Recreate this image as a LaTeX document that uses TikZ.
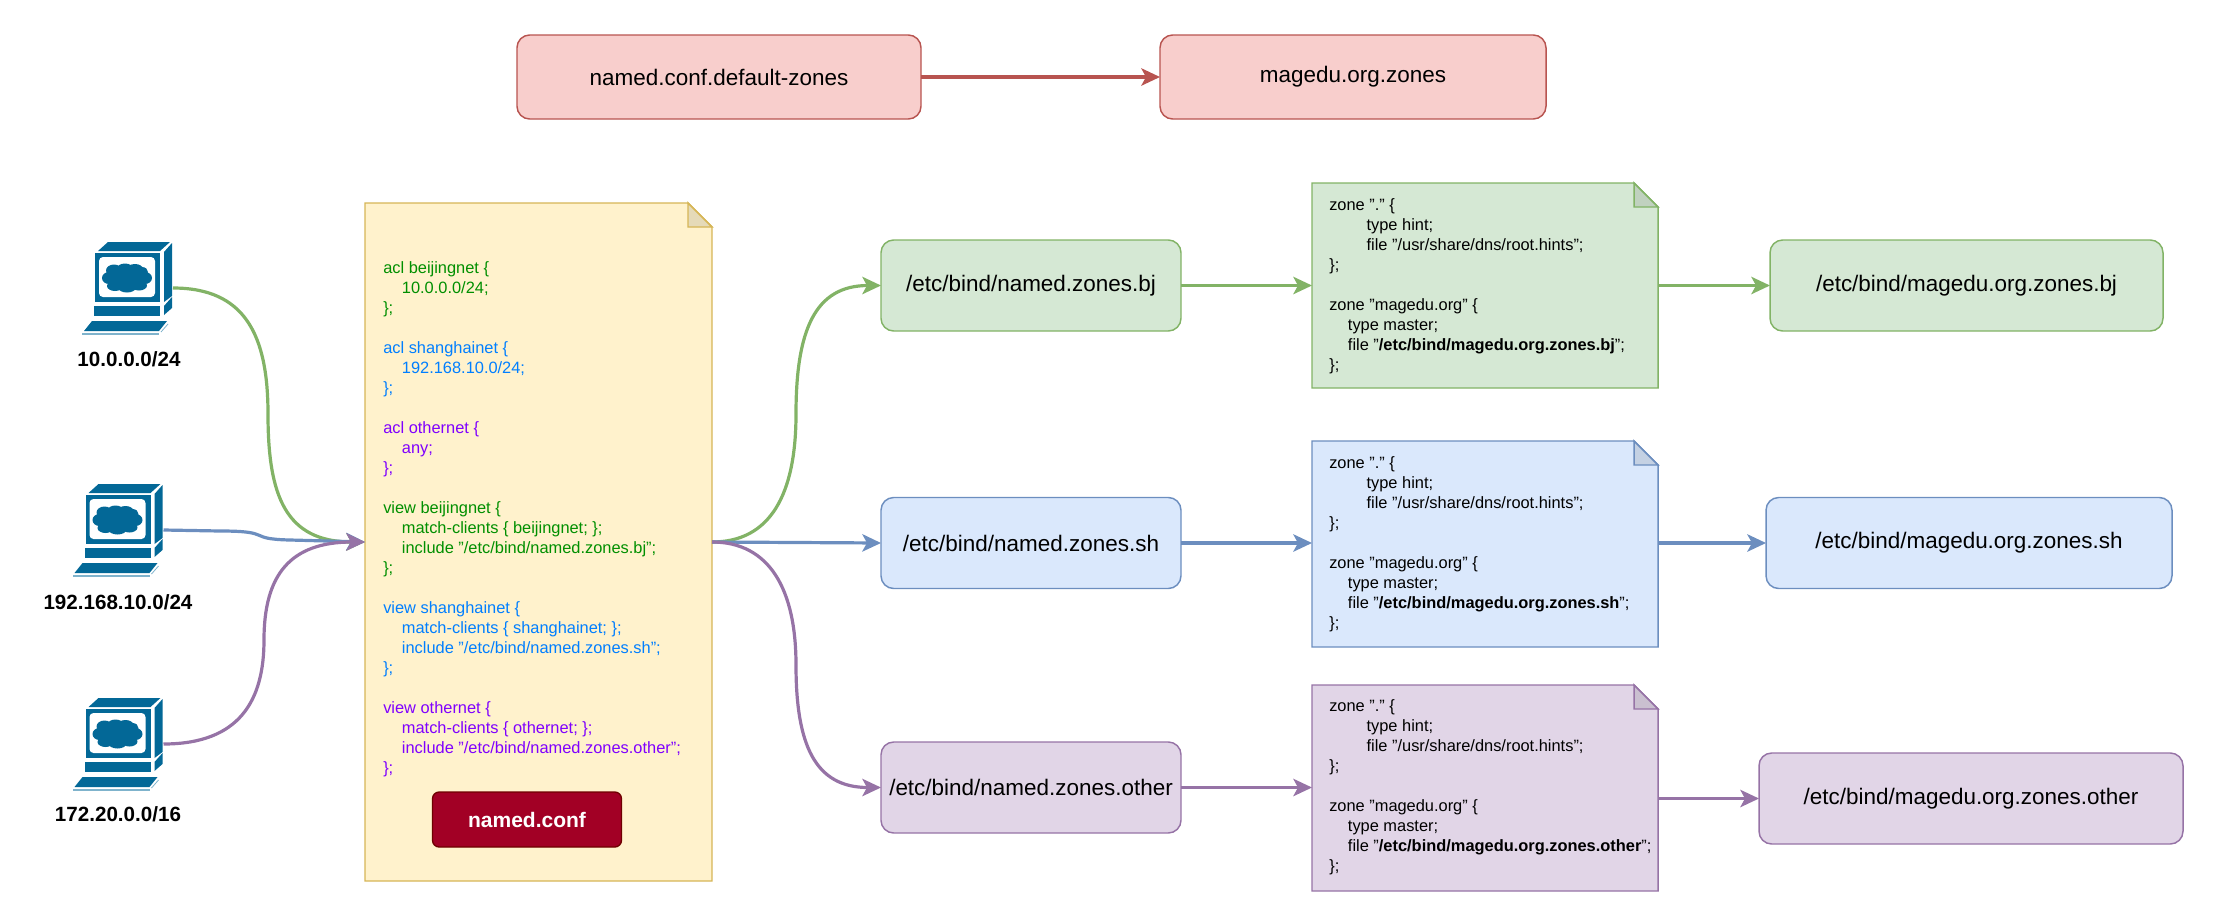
\documentclass[tikz,border=0pt]{standalone}
\usepackage{fontspec}
\setmainfont{Liberation Sans}
\usetikzlibrary{arrows.meta}
\definecolor{gl}{HTML}{82B366}\definecolor{gf}{HTML}{D5E8D4}
\definecolor{bl}{HTML}{6C8EBF}\definecolor{bf}{HTML}{DAE8FC}
\definecolor{pl}{HTML}{9673A6}\definecolor{pf}{HTML}{E1D5E7}
\definecolor{rl}{HTML}{B85450}\definecolor{rf}{HTML}{F8CECC}
\definecolor{yl}{HTML}{D6B656}\definecolor{yf}{HTML}{FFF2CC}
\definecolor{tg}{HTML}{008F00}\definecolor{tb}{HTML}{007FFF}\definecolor{tp}{HTML}{7F00FF}
\definecolor{pcc}{HTML}{036897}\definecolor{pcl}{HTML}{7FB3CC}
\definecolor{btn}{HTML}{A20025}\definecolor{btl}{HTML}{6F0000}
\newcommand{\ia}{\hspace*{14pt}}
\newcommand{\ib}{\hspace*{28pt}}
\newcommand{\tG}[1]{\textcolor{tg}{#1}}
\newcommand{\tB}[1]{\textcolor{tb}{#1}}
\newcommand{\tP}[1]{\textcolor{tp}{#1}}
\newcommand{\docframe}[3]{%
  \path[fill=#2,draw=#3,line width=1.1pt] (#1.north west) -- ([xshift=-18pt]#1.north east) -- ([yshift=-18pt]#1.north east) -- (#1.south east) -- (#1.south west) -- cycle;
  \path[fill=#2!90!black,draw=#3,line width=1.1pt] ([xshift=-18pt]#1.north east) -- ([yshift=-18pt]#1.north east) -- ([xshift=-18pt,yshift=-18pt]#1.north east) -- cycle;}
\newcommand{\zonetext}[1]{zone "." \{\\\ib type hint;\\\ib file "/usr/share/dns/root.hints";\\\};\\[15pt]zone "magedu.org" \{\\\ia type master;\\\ia file "\textbf{/etc/bind/magedu.org.zones.#1}";\\\};}
\tikzset{
  sz/.style 2 args={minimum width=#1*0.75pt,minimum height=#2*0.75pt},
  rbox/.style={draw,rounded corners=9.5pt,line width=1.1pt,inner sep=0pt,outer sep=0pt,font=\fontsize{16.85}{20}\selectfont,text=black},
  docbox/.style={inner sep=0pt,outer sep=0pt},
  doctext/.style={anchor=north west,inner sep=0pt,align=left,font=\fontsize{12.3}{15}\selectfont},
  pcnode/.style={inner sep=0pt,outer sep=0pt,sz={91}{94}},
  pclabel/.style={font=\fontsize{15.45}{18}\selectfont\bfseries,text=black,inner sep=0pt},
  conn/.style={line width=2.4pt,-{Stealth[length=14pt,width=13pt,inset=3.5pt]}},
  pcicon/.pic={
    \fill[pcc] (26,1)--(88,1)--(78,10)--(16,10)--cycle;
    \fill[pcc] (13,12) rectangle (78,61);
    \fill[white,rounded corners=3pt] (17,16) rectangle (73,56);
    \fill[pcc] (82,11)--(90,2)--(90,55)--(82,61)--cycle;
    \fill[pcc] (12,65) rectangle (78,75);
    \fill[pcc] (82,65)--(90,56)--(90,67)--(82,74)--cycle;
    \fill[pcc] (10,80)--(85,80)--(77,90)--(2,90)--cycle;
    \fill[pcl] (0,92) rectangle (77,94);
    \draw[pcl,line width=.6pt] (79,91)--(86,83);
    \fill[pcc] (45,37) ellipse [x radius=19,y radius=10];
    \fill[pcc] (27,37) ellipse [x radius=7,y radius=6];
    \fill[pcc] (63,37) ellipse [x radius=7,y radius=6];
    \fill[pcc] (32,29.5) ellipse [x radius=8,y radius=6];
    \fill[pcc] (43,27.5) ellipse [x radius=8,y radius=5];
    \fill[pcc] (53,28) ellipse [x radius=8,y radius=5];
    \fill[pcc] (60,31) ellipse [x radius=6,y radius=5];
    \fill[pcc] (33,45) ellipse [x radius=8,y radius=5];
    \fill[pcc] (45,46.5) ellipse [x radius=9,y radius=5];
    \fill[pcc] (57,44.5) ellipse [x radius=8,y radius=5];
  },
}
\begin{document}
\begin{tikzpicture}[x=0.75pt,y=-0.75pt]
\useasboundingbox (0,0) rectangle (2217,922);
% top boxes
\node[rbox,draw=rl,fill=rf,sz={404}{84}] (ta) at (719,77) {named.conf.default-zones};
\node[rbox,draw=rl,fill=rf,sz={386}{84}] (tb) at (1353,77) {magedu.org.zones};
\draw[conn,rl] (ta) -- (tb);
% computers
\node[pcnode] (pc1) at (127.5,288) {};
\node[pcnode] (pc2) at (118,530) {};
\node[pcnode] (pc3) at (118,744) {};
\pic at (82,241) {pcicon};
\pic at (72.5,483) {pcicon};
\pic at (72.5,697) {pcicon};
\node[pclabel] (l1) at (129,359) {10.0.0.0/24};
\node[pclabel] (l2) at (118,602) {192.168.10.0/24};
\node[pclabel] (l3) at (118,814) {172.20.0.0/16};
% main document
\node[docbox,sz={347}{678}] (doc) at (538.5,542) {};
\docframe{doc}{yf}{yl}
\node[doctext] (doct) at (383,261.5) {%
\tG{acl beijingnet \{}\\\ia\tG{10.0.0.0/24;}\\\tG{\};}\\[15pt]%
\tB{acl shanghainet \{}\\\ia\tB{192.168.10.0/24;}\\\tB{\};}\\[15pt]%
\tP{acl othernet \{}\\\ia\tP{any;}\\\tP{\};}\\[15pt]%
\tG{view beijingnet \{}\\\ia\tG{match-clients \{ beijingnet; \};}\\\ia\tG{include "/etc/bind/named.zones.bj";}\\\tG{\};}\\[15pt]%
\tB{view shanghainet \{}\\\ia\tB{match-clients \{ shanghainet; \};}\\\ia\tB{include "/etc/bind/named.zones.sh";}\\\tB{\};}\\[15pt]%
\tP{view othernet \{}\\\ia\tP{match-clients \{ othernet; \};}\\\ia\tP{include "/etc/bind/named.zones.other";}\\\tP{\};}};
\node[draw=btl,fill=btn,text=white,rounded corners=5pt,line width=1pt,inner sep=0pt,sz={189}{55},font=\fontsize{15.75}{18}\selectfont\bfseries] (btn) at (527,819.5) {named.conf};
% middle boxes
\node[rbox,draw=gl,fill=gf,sz={300}{91}] (m1) at (1031,285.5) {/etc/bind/named.zones.bj};
\node[rbox,draw=bl,fill=bf,sz={300}{91}] (m2) at (1031,543) {/etc/bind/named.zones.sh};
\node[rbox,draw=pl,fill=pf,sz={300}{91}] (m3) at (1031,787.5) {/etc/bind/named.zones.other};
% zone documents
\node[docbox,sz={346}{205}] (z1) at (1485,285.5) {};
\node[docbox,sz={346}{206}] (z2) at (1485,544) {};
\node[docbox,sz={346}{206}] (z3) at (1485,788) {};
\docframe{z1}{gf}{gl}
\docframe{z2}{bf}{bl}
\docframe{z3}{pf}{pl}
\node[doctext] (z1t) at (1329,198.5) {\zonetext{bj}};
\node[doctext] (z2t) at (1329,456.5) {\zonetext{sh}};
\node[doctext] (z3t) at (1329,699.5) {\zonetext{other}};
% result boxes
\node[rbox,draw=gl,fill=gf,sz={393}{91}] (r1) at (1966.5,285.5) {/etc/bind/magedu.org.zones.bj};
\node[rbox,draw=bl,fill=bf,sz={406}{91}] (r2) at (1969,543) {/etc/bind/magedu.org.zones.sh};
\node[rbox,draw=pl,fill=pf,sz={424}{91}] (r3) at (1971,798.5) {/etc/bind/magedu.org.zones.other};
% connectors into document
\draw[conn,gl] (pc1.east) .. controls (245,288) and (268,335) .. (268,414) .. controls (268,495) and (285,542) .. (doc.west);
\draw[conn,bl] (pc2.east) -- (220,531) .. controls (275,531) and (245,539) .. (290,540) -- (doc.west);
\draw[conn,pl] (pc3.east) .. controls (240,744) and (264,700) .. (264,640) .. controls (264,575) and (290,542) .. (doc.west);
% connectors out of document
\draw[conn,gl] (doc.east) .. controls (770,542) and (796,495) .. (796,414) .. controls (796,330) and (815,285.5) .. (m1.west);
\draw[conn,bl] (doc.east) -- (m2.west);
\draw[conn,pl] (doc.east) .. controls (770,542) and (796,590) .. (796,665) .. controls (796,745) and (815,787.5) .. (m3.west);
% straight connectors
\draw[conn,gl] (m1.east) -- (m1.east -| z1.west);
\draw[conn,bl] (m2.east) -- (m2.east -| z2.west);
\draw[conn,pl] (m3.east) -- (m3.east -| z3.west);
\draw[conn,gl] (r1.west -| z1.east) -- (r1.west);
\draw[conn,bl] (r2.west -| z2.east) -- (r2.west);
\draw[conn,pl] (r3.west -| z3.east) -- (r3.west);
\end{tikzpicture}
\end{document}
